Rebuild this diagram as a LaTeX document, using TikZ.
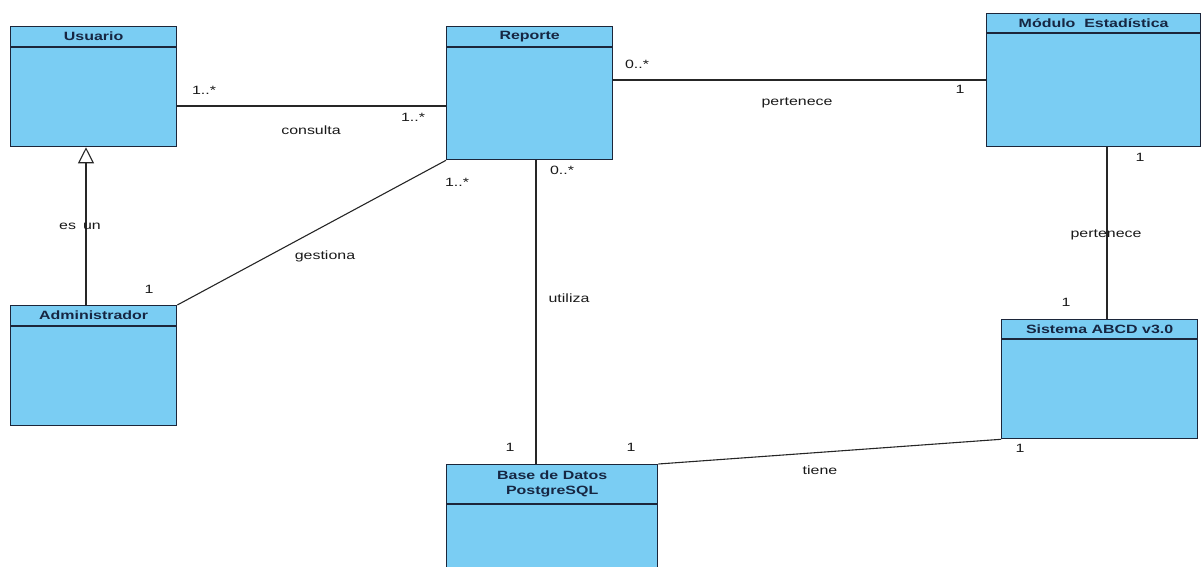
\documentclass[tikz,border=0pt]{standalone}
\usepackage{fontspec}
\setmainfont{Liberation Sans}[FakeStretch=1.33]
\usetikzlibrary{arrows.meta}
\definecolor{classfill}{RGB}{122,205,243}
\definecolor{classline}{RGB}{28,38,58}
\definecolor{classtext}{RGB}{22,38,66}
\definecolor{labeltext}{RGB}{25,25,25}

\begin{document}
\begin{tikzpicture}[x=1pt,y=-1pt,
  classbox/.style={rectangle, draw=classline, fill=classfill, line width=1.3pt,
    anchor=north west, inner sep=0pt},
  classname/.style={font=\fontsize{12}{15}\selectfont\bfseries, text=classtext,
    inner sep=0pt, align=center},
  assoc/.style={draw=black!85, line width=1.1pt},
  mult/.style={font=\fontsize{12}{14}\selectfont, text=labeltext, inner sep=0pt},
  ]
\useasboundingbox (0,0) rectangle (1201,567);

% guide coordinates for the connector routes
\coordinate (yA) at (0,106);
\coordinate (yB) at (0,80);
\coordinate (xC) at (536,0);
\coordinate (xD) at (1107,0);

% classes
\node[classbox, minimum width=166pt, minimum height=120pt] (usuario) at (10,26) {};
\node[classbox, minimum width=166pt, minimum height=133pt] (reporte) at (446,26) {};
\node[classbox, minimum width=214pt, minimum height=133pt] (modulo) at (986,13) {};
\node[classbox, minimum width=166pt, minimum height=120pt] (admin) at (10,305) {};
\node[classbox, minimum width=196pt, minimum height=119pt] (sistema) at (1001,319) {};
\node[classbox, minimum width=211pt, minimum height=110pt] (bd) at (446,464) {};

% header separators
\foreach \c/\h in {usuario/21, reporte/21, modulo/20, admin/21, sistema/20, bd/40}
  \draw[classline, line width=1.3pt]
    ([yshift=-\h pt]\c.north west) -- ([yshift=-\h pt]\c.north east);

% class names
\node[classname] (usuarioname) at ([yshift=-10.5pt]usuario.north) {Usuario};
\node[classname] (reportename) at ([yshift=-10.5pt]reporte.north) {Reporte};
\node[classname] (moduloname) at ([yshift=-10pt]modulo.north) {Módulo\ \ Estadística};
\node[classname] (adminname) at ([yshift=-10.5pt]admin.north) {Administrador};
\node[classname] (sistemaname) at ([yshift=-10pt]sistema.north) {Sistema ABCD v3.0};
\node[classname] (bdname) at ([yshift=-20pt]bd.north) {Base de Datos\\PostgreSQL};

% associations
\draw[assoc] (usuario.east |- yA) -- (reporte.west |- yA);
\draw[assoc] (reporte.east |- yB) -- (modulo.west |- yB);
\draw[assoc] (reporte.south -| xC) -- (bd.north -| xC);
\draw[assoc] (admin.north east) -- (reporte.south west);
\draw[assoc] (modulo.south -| xD) -- (sistema.north -| xD);
\draw[assoc] (bd.north east) -- (sistema.south west);

% generalization
\draw[assoc, -{Triangle[open, length=16pt, width=16pt, fill=white]}]
  ([xshift=76pt]admin.north west) -- ([xshift=76pt]usuario.south west);

% multiplicities and association names
\node[mult] (m1) at (204,90) {1..*};
\node[mult] (n1) at (311,130) {consulta};
\node[mult] (m2) at (413,117) {1..*};
\node[mult] (m3) at (637,64) {0..*};
\node[mult] (n2) at (797,103) {pertenece};
\node[mult] (m4) at (960,89) {1};
\node[mult] (m5) at (1140,157) {1};
\node[mult] (n3) at (1106,235) {pertenece};
\node[mult] (m6) at (1066,302) {1};
\node[mult] (m7) at (457,182) {1..*};
\node[mult] (n4) at (325,256) {gestiona};
\node[mult] (m8) at (149,289) {1};
\node[mult] (m9) at (562,170) {0..*};
\node[mult] (n5) at (569,298) {utiliza};
\node[mult] (m10) at (510,447) {1};
\node[mult] (m11) at (631,447) {1};
\node[mult] (n6) at (820,470) {tiene};
\node[mult] (m12) at (1020,448) {1};
\node[mult] (n7) at (80,226) {es\hspace{7pt}un};
\end{tikzpicture}
\end{document}
